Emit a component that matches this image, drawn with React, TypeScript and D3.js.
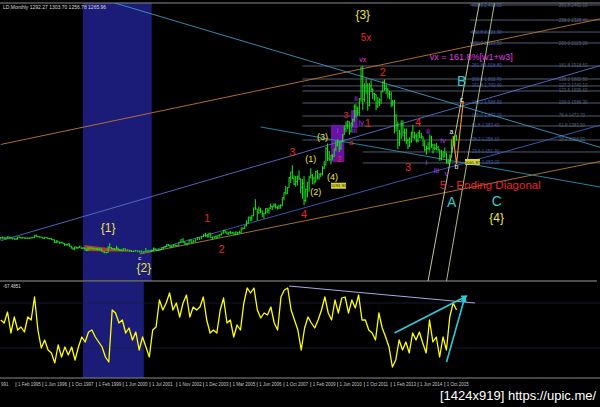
import React from "react";
import * as d3 from "d3";

// ---------- DATA ----------
const START_MONTH = "1994-05";

const highs = [
  390,396,392,388,398,396,390,385,
  382,380,394,396,392,390,389,388,387,388,389,389,
  408,416,402,398,394,391,389,390,388,384,384,373,
  368,363,357,349,350,345,336,333,336,334,314,299,
  306,305,304,314,304,299,298,290,302,301,300,297,
  293,292,294,290,292,268,265,260,310,338,303,292,
  293,315,298,286,283,292,292,281,278,275,271,275,
  272,269,269,265,294,276,270,280,297,294,280,282,
  285,299,304,312,328,330,323,316,326,326,322,349,
  372,382,354,341,372,371,368,376,392,391,400,417,
  429,418,429,427,395,397,409,410,417,431,455,456,
  442,439,447,437,436,443,437,447,475,478,496,541,
  573,575,588,654,730,642,663,653,629,605,650,649,
  654,691,673,692,691,670,680,685,745,791,847,837,
  929,974,1033,942,937,941,988,915,910,935,825,882,
  935,1006,954,930,982,990,960,964,1024,1070,1195,1226,
  1161,1126,1133,1180,1249,1265,1244,1252,1308,1388,1424,1432,
  1424,1411,1448,1576,1577,1556,1632,1913,1920,1764,1803,1764,
  1764,1791,1720,1677,1667,1641,1630,1692,1788,1798,1754,1723,
  1697,1690,1617,1616,1488,1424,1348,1434,1434,1361,1362,1268,
  1280,1332,1392,1331,1315,1326,1345,1322,1290,1255,1208,1238,
  1308,1296,1224,1224,1232,1205,1175,1170,1157,1191,1142,1088,
  1128,1263,1287,1303,1304,
];
const lows = [
  373,381,380,375,384,383,381,375,
  372,371,374,388,382,384,382,380,381,382,382,384,
  387,398,394,390,389,380,380,385,378,377,370,367,
  343,341,346,337,340,333,318,319,318,308,293,282,
  278,292,291,299,290,287,286,272,274,288,291,285,
  283,282,278,278,268,257,252,252,254,294,288,278,
  280,281,275,273,271,272,275,273,268,263,263,268,
  262,255,256,255,263,265,264,264,272,277,271,272,
  276,281,287,300,306,316,300,302,309,311,314,318,
  342,343,325,320,335,341,342,351,368,372,378,397,
  398,393,392,386,372,383,386,389,398,410,426,431,
  418,412,424,423,414,413,418,427,432,462,468,490,
  516,538,538,582,637,543,602,612,574,560,601,609,
  604,648,636,662,651,641,647,650,671,725,775,781,
  836,880,917,860,846,856,906,786,740,681,705,750,
  802,919,866,865,884,910,908,931,945,1003,1034,1075,
  1076,1044,1087,1113,1162,1205,1155,1175,1242,1310,1330,1361,
  1309,1330,1381,1424,1462,1477,1478,1603,1532,1604,1670,1523,
  1563,1689,1628,1613,1527,1548,1564,1585,1686,1702,1672,1635,
  1626,1555,1563,1321,1338,1180,1208,1270,1292,1251,1227,1181,
  1200,1239,1277,1268,1240,1240,1280,1273,1206,1161,1131,1170,
  1167,1192,1142,1170,1170,1162,1077,1080,1098,1106,1052,1046,
  1062,1106,1208,1207,1257,
];
const closes = [
  387,385,384,385,394,389,383,383,
  375,376,392,389,385,387,383,382,384,383,387,387,
  405,400,396,392,390,382,386,387,379,379,371,369,
  345,358,348,340,345,334,326,325,332,311,296,290,
  304,297,301,310,293,296,288,273,293,292,294,288,
  287,287,280,286,268,261,255,254,299,299,291,290,
  283,293,277,274,272,289,277,277,273,264,270,273,
  265,267,258,264,267,270,266,273,293,279,275,279,
  282,297,302,309,326,318,304,312,324,317,318,347,
  368,347,334,336,364,346,354,375,388,384,398,416,
  402,396,427,388,393,395,391,408,415,428,452,438,
  422,435,428,435,417,436,429,433,473,470,495,517,
  569,556,582,654,643,613,633,624,599,604,646,632,
  650,665,662,679,656,650,666,673,743,790,783,834,
  923,971,916,864,886,928,913,834,871,718,816,882,
  927,942,916,883,978,926,954,955,1007,1039,1182,1095,
  1081,1118,1113,1179,1213,1245,1181,1247,1307,1358,1384,1421,
  1332,1409,1439,1556,1536,1500,1628,1826,1620,1722,1746,1566,
  1737,1710,1669,1664,1560,1598,1614,1692,1772,1719,1713,1675,
  1663,1578,1597,1476,1393,1234,1313,1395,1327,1323,1253,1202,
  1240,1326,1284,1296,1250,1327,1282,1287,1210,1171,1182,1184,
  1283,1212,1183,1183,1190,1172,1095,1133,1115,1142,1065,1061,
  1117,1238,1233,1292,1266,
];

// oscillator (equal bar spacing)
const oscValues = [
  52,49,60,39,55,42,45,40,55,52,75,42,24,32,22,19,9,27,15,25,17,25,12,25,35,30,40,42,35,30,
  25,15,10,62,59,49,52,39,44,32,40,22,35,25,15,42,45,72,62,69,79,62,69,55,69,77,55,65,62,65,
  75,52,39,42,39,62,74,49,52,35,47,42,69,84,79,84,62,54,59,57,65,49,42,75,82,84,62,52,42,22,
  44,55,49,44,52,62,75,59,52,72,59,74,75,59,72,64,77,52,52,42,39,32,59,44,35,25,5,12,
  32,22,30,19,39,32,40,29,19,52,30,35,15,35,22,55,69,62,
];

const tickMonths = ["1995-02","1996-06","1997-10","1999-02","2000-06","2001-07","2002-11","2003-12","2005-03","2006-06","2007-10","2009-02","2010-06","2011-10","2013-02","2014-06","2015-10"];
const tickLabels = ["1 Feb 1995","1 Jun 1996","1 Oct 1997","1 Feb 1999","1 Jun 2000","1 Jul 2001","1 Nov 2002","1 Dec 2003","1 Mar 2005","1 Jun 2006","1 Oct 2007","1 Feb 2009","1 Jun 2010","1 Oct 2011","1 Feb 2013","1 Jun 2014","1 Oct 2015"];
const cutTickLabel = "991";

// fibonacci levels (price), where each line starts, and labels
const fibLevels = [2462, 2328, 2221, 2123, 1918, 1802, 1740, 1695, 1588, 1472, 1383, 1258, 1151, 1053];
const fibStartMonths = ["2017-01","2017-01","2017-01","2017-01","2008-09","2008-09","2008-09","2008-09","2008-09","2008-09","2008-09","2008-09","2011-09","2011-09"];
const fibLeftLabels = ["423.6 2,462.00","","361.8 2,221.30","300.0 2,123.50","261.8 1,918.80","200.0 1,802.70","161.8 1,740.40","","138.2 1,588.90","100.0 1,472.20","61.8 1,383.40","38.2 1,258.10","23.6 1,151.30",""];
const fibRightLabels = ["261.8 2462.10","238.2 2328.40","","200.0 2123.20","161.8 1918.60","138.2 1802.50","127.2 1740.10","123.6 1695.60","100.0 1588.30","76.4 1472.70","61.8 1383.90","38.2 1258.60","",""];
const FIB_LEFT_MONTH = "2017-02";
const FIB_RIGHT_MONTH = "2021-06";
const FIB_END_MONTH = "2023-08";

// trend lines [month, price] -> [month, price]
const trendFrom = [["1994-05",360],["2001-07",268],["2000-01",2480],["2006-08",1374],["1994-05",1218],["2001-02",241],["2014-12",0],["2015-11",0]];
const trendTo = [["2023-08",1927],["2023-08",1396],["2023-08",1187],["2023-08",835],["2023-08",2342],["2023-08",1071],["2017-07",2507],["2018-04",2507]];
const trendColors = ["#5a6ed0","#3d5fc0","#3a9ac0","#2a90b8","#c07830","#b87a30","#d8e0a0","#b8d098"];

const abcPath = [["2016-03",1293],["2016-05",1044],["2016-09",1606]];
const wedge = [["1998-07",321],["1998-07",268],["2001-02",259]];
const purpleBoxes = [[["2010-02",1062],["2010-10",1392]],[["2011-02",1365],["2011-06",1525]]];
const shadeMain = ["1998-06","2001-08"];
const shadeOsc = ["1998-06","2001-04"];
const priceBoxes = [["2010-02",850,"1093.90",""],["2016-10",1062,"1061.87","1,050.00"]];

// wave labels: text, month, price, colour, size
const waveLabels: [string,string,number,string,number][] = [
  ["{3}","2011-09",2373,"yellow",12],
  ["5x","2011-11",2168,"red",10],
  ["vx","2011-09",1980,"magenta",7],
  ["B","2016-08",1784,"cyan",14],
  ["c","2016-08",1615,"white",7],
  ["a","2016-02",1338,"white",7],
  ["b","2016-05",1017,"white",7],
  ["A","2016-02",705,"cyan",14],
  ["C","2018-05",710,"cyan",14],
  ["{4}","2018-05",566,"yellow",12],
  ["2","2012-09",1864,"red",11],
  ["4","2014-06",1418,"red",11],
  ["3","2013-12",1017,"red",11],
  ["1","2011-12",1410,"red",11],
  ["3","2008-03",1151,"red",11],
  ["4","2008-10",598,"red",11],
  ["2","2010-07",1088,"red",9],
  ["3","2010-11",1481,"red",9],
  ["a","2011-02",1240,"red",7],
  ["1","2004-02",562,"red",11],
  ["2","2004-10",285,"red",11],
  ["{1}","1999-09",473,"yellow",12],
  ["{2}","2001-04",116,"yellow",12],
  ["c","2001-02",205,"white",6],
  ["(1)","2009-02",1088,"yellow",9],
  ["(2)","2009-05",794,"yellow",9],
  ["(3)","2009-09",1285,"yellow",9],
  ["(4)","2010-03",928,"yellow",9],
  ["i","2010-06",1347,"purple",8],
  ["ii","2011-05",1624,"purple",8],
  ["iii","2011-04",1341,"purple",8],
  ["iv","2011-08",1418,"purple",8],
  ["ii","2014-12",1338,"purple",8],
  ["iv","2015-09",1249,"purple",8],
  ["i","2014-11",1053,"purple",8],
  ["iii","2015-05",990,"purple",8],
  ["v","2015-11",963,"purple",8],
];
const startLabels: [string,string,number,string,number][] = [
  ["vx = 161.8%[w1+w3]","2015-01",1998,"magenta",9],
  ["5 - Ending Diagonal","2015-07",856,"red",11.5],
];

const oscTrendFrom = [["2008-01",86]];
const oscTrendTo = [["2017-04",69]];
const oscArrowFrom = [["2013-04",39],["2015-11",10]];
const oscArrowTo = [["2016-11",76],["2016-10",75]];
const oscLevels = [69, 24];

const headerText = "LD,Monthly  1292.27 1303.70 1256.78 1265.96";
const oscHeader = "-67.4851";
const watermark = "[1424x919] https://upic.me/";

// ---------- LAYOUT / STYLE ----------
const W = 600, H = 407;
const MAIN_TOP = 3, MAIN_BOTTOM = 281;
const OSC_TOP = 282, OSC_BOTTOM = 372, AXIS_Y = 378;
const AXIS_X0 = 16, AXIS_STEP = 26.8;
const COLORS: Record<string,string> = {
  yellow: "#efe344", red: "#e8232b", magenta: "#e03ce0", cyan: "#3cc8c4", white: "#f4f4f4", purple: "#a43ce8",
};
const FONT = "'Liberation Sans', Arial, sans-serif";

export default function App() {
  const parseMonth = d3.timeParse("%Y-%m");
  const pm = (m: string) => parseMonth(m) as Date;
  const firstBar = pm(START_MONTH);
  const barDates = closes.map((_, i) => d3.timeMonth.offset(firstBar, i));
  const tickDates = tickMonths.map(pm);

  const x = d3.scaleTime().domain(tickDates).range(tickDates.map((_, k) => AXIS_X0 + k * AXIS_STEP));
  const y = d3.scaleLinear().domain([0, 2480]).range([MAIN_BOTTOM, MAIN_TOP]);
  const yo = d3.scaleLinear().domain([0, 90]).range([OSC_BOTTOM, OSC_TOP]);
  const xo = d3.scaleLinear().domain([0, oscValues.length - 1]).range([x(barDates[0]), x(barDates[barDates.length - 1])]);
  const X = (m: string) => x(pm(m));

  const oscLine = d3.line<number>().x((_, i) => xo(i)).y(v => yo(v))(oscValues) || "";
  const abcLine = d3.line<any>().x(d => X(d[0])).y(d => y(d[1]))(abcPath as any) || "";
  const wedgePts = wedge.map(d => `${X(d[0] as string)},${y(d[1] as number)}`).join(" ");

  return (
    <svg width={W} height={H} style={{ position: "absolute", left: 0, top: 0, background: "#000" }} fontFamily={FONT}>
      <defs>
        <clipPath id="mainClip"><rect x={0} y={MAIN_TOP} width={W} height={MAIN_BOTTOM - MAIN_TOP} /></clipPath>
        <clipPath id="oscClip"><rect x={0} y={OSC_TOP} width={W} height={AXIS_Y - OSC_TOP} /></clipPath>
        <marker id="arrowHead" viewBox="0 0 10 10" refX={8} refY={5} markerWidth={4} markerHeight={4} orient="auto">
          <path d="M0,0L10,5L0,10z" fill="#30c8d8" />
        </marker>
      </defs>
      <rect x={0} y={0} width={W} height={H} fill="#000" />

      {/* shaded periods */}
      <rect x={x(pm(shadeMain[0]))} y={MAIN_TOP} width={x(pm(shadeMain[1])) - x(pm(shadeMain[0]))} height={MAIN_BOTTOM - MAIN_TOP} fill="#1b1b78" />
      <rect x={x(pm(shadeOsc[0]))} y={OSC_TOP} width={x(pm(shadeOsc[1])) - x(pm(shadeOsc[0]))} height={AXIS_Y - OSC_TOP} fill="#1b1b78" />

      <g clipPath="url(#mainClip)">
        {/* fib levels */}
        {fibLevels.map((p, i) => (
          <g key={"fib" + i}>
            <line x1={X(fibStartMonths[i])} x2={X(FIB_END_MONTH)} y1={y(p)} y2={y(p)} stroke="#7a88a4" strokeWidth={0.8} opacity={0.85} />
            {fibLeftLabels[i] && <text x={X(FIB_LEFT_MONTH)} y={y(p) + 1.5} fontSize={4.5} fill="#3f5fae">{fibLeftLabels[i]}</text>}
            {fibRightLabels[i] && <text x={X(FIB_RIGHT_MONTH)} y={y(p) + 1.5} fontSize={4.5} fill="#56607a">{fibRightLabels[i]}</text>}
          </g>
        ))}

        {/* purple boxes */}
        {purpleBoxes.map((b, i) => (
          <rect key={"pb" + i} x={X(b[0][0] as string)} y={y(b[1][1] as number)} width={X(b[1][0] as string) - X(b[0][0] as string)} height={y(b[0][1] as number) - y(b[1][1] as number)} fill="#7a14c0" opacity={0.85} />
        ))}

        {/* trend lines */}
        {trendFrom.map((f, i) => (
          <line key={"tl" + i} x1={X(f[0] as string)} y1={y(f[1] as number)} x2={X(trendTo[i][0] as string)} y2={y(trendTo[i][1] as number)} stroke={trendColors[i]} strokeWidth={0.9} />
        ))}

        <polygon points={wedgePts} fill="#c8481c" opacity={0.85} />

        {/* price bars */}
        {closes.map((c, i) => {
          const bx = x(barDates[i]);
          const o = i > 0 ? closes[i - 1] : c;
          return (
            <g key={"bar" + i} stroke="#1ee61e" strokeWidth={1}>
              <line x1={bx} x2={bx} y1={y(highs[i])} y2={y(lows[i]) + 0.5} />
              <line x1={bx - 0.8} x2={bx} y1={y(o)} y2={y(o)} strokeWidth={0.8} />
              <line x1={bx} x2={bx + 0.8} y1={y(c)} y2={y(c)} strokeWidth={0.8} />
            </g>
          );
        })}

        <path d={abcLine} fill="none" stroke="#ff9a22" strokeWidth={1.1} />

        {/* price boxes */}
        {priceBoxes.map((b, i) => (
          <g key={"pbx" + i}>
            <rect x={X(b[0] as string)} y={y(b[1] as number) - 3} width={15} height={6} fill="#d8d43c" />
            <text x={X(b[0] as string) + 7.5} y={y(b[1] as number) + 1.6} fontSize={4.3} textAnchor="middle" fill="#202000">{b[2]}</text>
            {b[3] && <text x={X(b[0] as string) + 17} y={y(b[1] as number) + 1.6} fontSize={4.5} fill="#3f5fae">{b[3]}</text>}
          </g>
        ))}

        {waveLabels.map((l, i) => (
          <text key={"wl" + i} x={X(l[1])} y={y(l[2])} fontSize={l[4]} textAnchor="middle" dominantBaseline="central" fill={COLORS[l[3]]}>{l[0]}</text>
        ))}
        {startLabels.map((l, i) => (
          <text key={"sl" + i} x={X(l[1])} y={y(l[2])} fontSize={l[4]} dominantBaseline="central" fill={COLORS[l[3]]}>{l[0]}</text>
        ))}
      </g>

      {/* panel borders */}
      <line x1={0} x2={W} y1={MAIN_TOP} y2={MAIN_TOP} stroke="#8a8a8a" strokeWidth={1} />
      <line x1={0} x2={W - 3} y1={MAIN_BOTTOM} y2={MAIN_BOTTOM} stroke="#9a9a9a" strokeWidth={1.2} />
      <line x1={0} x2={W} y1={AXIS_Y} y2={AXIS_Y} stroke="#8a8a8a" strokeWidth={1} />
      <text x={3} y={8.5} fontSize={5} fill="#d8d8d8">{headerText}</text>
      <text x={3} y={288} fontSize={4.5} fill="#d8d8d8">{oscHeader}</text>

      {/* oscillator */}
      <g clipPath="url(#oscClip)">
        {oscLevels.map((v, i) => (
          <line key={"ol" + i} x1={0} x2={W} y1={yo(v)} y2={yo(v)} stroke="#1c1c40" strokeWidth={0.8} />
        ))}
        <path d={oscLine} fill="none" stroke="#ffff00" strokeWidth={1.3} strokeLinejoin="round" />
        {oscTrendFrom.map((f, i) => (
          <line key={"ot" + i} x1={X(f[0] as string)} y1={yo(f[1] as number)} x2={X(oscTrendTo[i][0] as string)} y2={yo(oscTrendTo[i][1] as number)} stroke="#a8a8e8" strokeWidth={1} />
        ))}
        {oscArrowFrom.map((f, i) => (
          <line key={"oa" + i} x1={X(f[0] as string)} y1={yo(f[1] as number)} x2={X(oscArrowTo[i][0] as string)} y2={yo(oscArrowTo[i][1] as number)} stroke="#30c8d8" strokeWidth={1.6} markerEnd="url(#arrowHead)" />
        ))}
      </g>

      {/* time axis */}
      <text x={1} y={386} fontSize={4.5} fill="#c8c8c8">{cutTickLabel}</text>
      {tickDates.map((d, k) => (
        <g key={"tk" + k}>
          <line x1={x(d)} x2={x(d)} y1={382} y2={387} stroke="#c8c8c8" strokeWidth={0.6} />
          <text x={x(d) + 2} y={386} fontSize={4.5} fill="#c8c8c8">{tickLabels[k]}</text>
        </g>
      ))}

      <text x={440} y={400} fontSize={13} fill="#ffffff" fontFamily="'Liberation Sans', Arial, sans-serif">{watermark}</text>
    </svg>
  );
}
